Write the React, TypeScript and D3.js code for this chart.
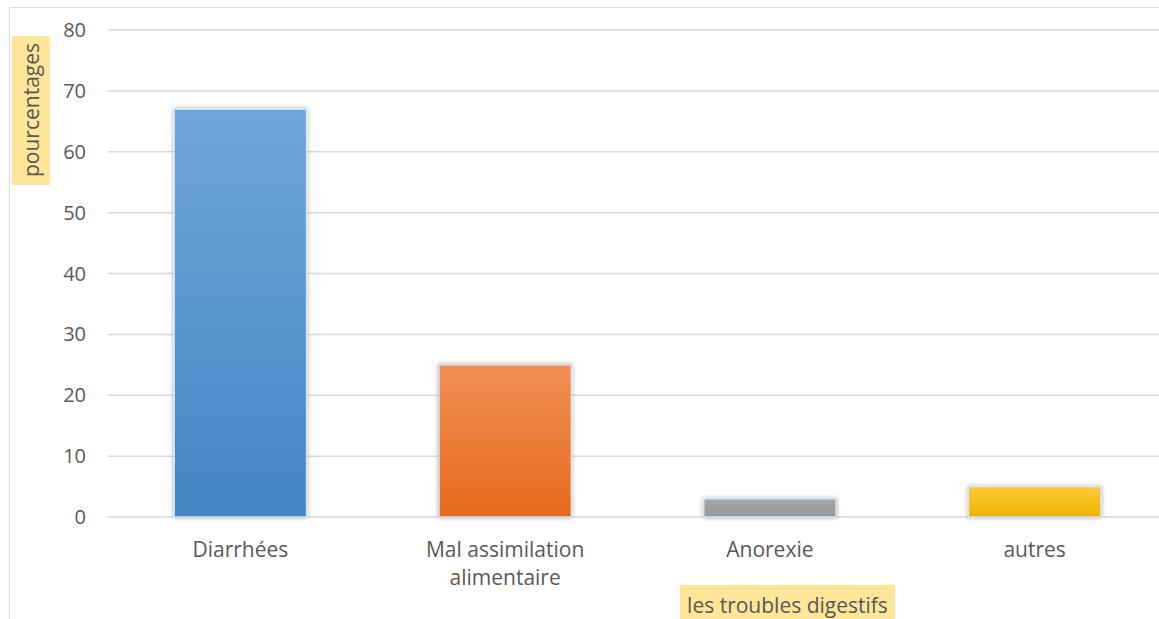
import React from "react";
import * as d3 from "d3";

const categories = ["Diarrhées", "Mal assimilation alimentaire", "Anorexie", "autres"];
const values = [67, 25, 3, 5];
const yTicks = [0, 10, 20, 30, 40, 50, 60, 70, 80];

const W = 1159;
const H = 619;
const FONT = "'Open Sans', sans-serif";

// top / bottom gradient colours for each bar
const barColors = [
  ["#6fa5da", "#4286c6"],
  ["#f28e55", "#e5691b"],
  ["#a8a8a8", "#979797"],
  ["#ffc93a", "#edb400"],
];

function App() {
  const x = d3.scaleBand().domain(categories).range([108, 1167]).paddingInner(0.5).paddingOuter(0.25);
  const y = d3.scaleLinear().domain([0, 80]).range([517, 30]);

  const lines = (c: string) =>
    c === "Mal assimilation alimentaire" ? ["Mal assimilation", "alimentaire"] : [c];

  return (
    <svg width={W} height={H} style={{ position: "absolute", left: 0, top: 0 }}>
      <defs>
        {barColors.map((c, i) => (
          <linearGradient key={i} id={`g${i}`} x1="0" y1="0" x2="0" y2="1">
            <stop offset="0" stopColor={c[0]} />
            <stop offset="1" stopColor={c[1]} />
          </linearGradient>
        ))}
        <filter id="shadow" x="-20%" y="-20%" width="140%" height="140%">
          <feDropShadow dx="0" dy="0" stdDeviation="2" floodColor="#000" floodOpacity="0.35" />
        </filter>
      </defs>
      <rect x={9.5} y={7.5} width={W} height={H} fill="#fff" stroke="#d9d9d9" />

      {yTicks.map((t) => (
        <g key={t}>
          <line x1={108} x2={W} y1={y(t)} y2={y(t)} stroke="#d9d9d9" strokeWidth={1.5} />
          <text x={86} y={y(t) + 7} textAnchor="end" fontSize={20} fill="#595959" fontFamily={FONT}>
            {t}
          </text>
        </g>
      ))}

      {categories.map((c, i) => (
        <g key={c}>
          <rect
            x={x(c)!}
            y={y(values[i])}
            width={x.bandwidth()}
            height={y(0) - y(values[i])}
            fill={`url(#g${i})`}
            stroke="#d6e4f3"
            strokeWidth={1.5}
            filter="url(#shadow)"
          />
          {lines(c).map((l, j) => (
            <text
              key={j}
              x={x(c)! + x.bandwidth() / 2}
              y={557 + j * 28}
              textAnchor="middle"
              fontSize={21}
              fill="#595959"
              fontFamily={FONT}
            >
              {l}
            </text>
          ))}
        </g>
      ))}

      {/* y axis title */}
      <rect x={12} y={36} width={38} height={149} fill="#ffe699" />
      <text
        transform={`translate(39,${110}) rotate(-90)`}
        textAnchor="middle"
        fontSize={21}
        fill="#595959"
        fontFamily={FONT}
      >
        pourcentages
      </text>

      {/* x axis title */}
      <rect x={680} y={585} width={215} height={36} fill="#ffe699" />
      <text x={787.5} y={613} textAnchor="middle" fontSize={21} fill="#595959" fontFamily={FONT}>
        les troubles digestifs
      </text>
    </svg>
  );
}

export default App;
